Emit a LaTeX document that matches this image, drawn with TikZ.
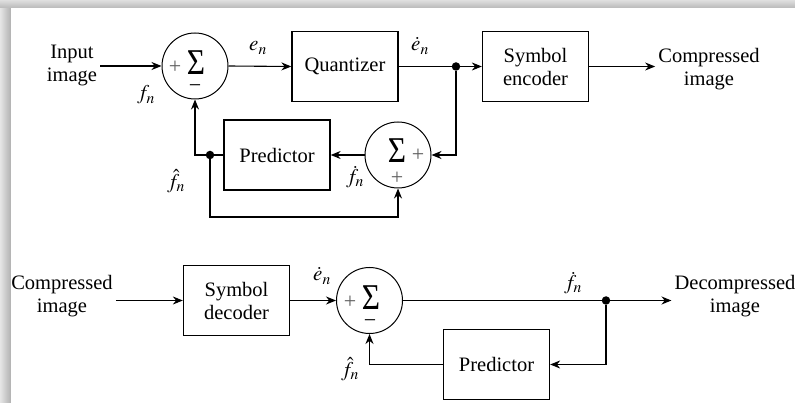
\documentclass[tikz,border=0pt]{standalone}
\usepackage{mathptmx}
\usepackage{fontspec}
\setmainfont{Liberation Serif}
\usetikzlibrary{arrows.meta}
\tikzset{
  box/.style={draw, line width=1.3pt, minimum width=106pt, minimum height=70pt, align=center, inner sep=0pt,
              font=\fontsize{20.5}{23}\selectfont},
  sumc/.style={draw, circle, line width=1pt, minimum size=66pt, inner sep=0pt},
  lbl/.style={align=center, inner sep=3pt, font=\fontsize{20.5}{23}\selectfont},
  mlbl/.style={inner sep=0pt, font=\fontsize{21}{23}\selectfont},
  sig/.style={inner sep=0pt, font=\fontsize{33}{33}\selectfont},
  pm/.style={inner sep=0pt, font=\fontsize{22}{22}\selectfont},
  ln/.style={line width=1.1pt},
  arr/.style={line width=1.1pt, -{Stealth[length=10pt,width=8pt]}},
  jdot/.style={circle, fill=black, minimum size=8.5pt, inner sep=0pt}
}
\newcommand{\bigsig}{\scalebox{0.95}[1.1]{Σ}}
\begin{document}
\begin{tikzpicture}[x=1pt,y=-1pt]
\useasboundingbox (0,0) rectangle (795,403);
% card background and shadow frame
\fill[white] (0,0) rectangle (795,403);
\shade[left color=gray!20, right color=gray!62] (0,0) rectangle (11,403);
\shade[top color=gray!25, bottom color=gray!55] (0,0) rectangle (795,8);
\fill[white] (11,8) rectangle (795,403);

% ---------- encoder ----------
\node[lbl] (in) at (72,66) {Input\\image};
\node[sumc] (s1) at (195,66) {};
\node[sig] (s1sig) at (196,63) {\bigsig};
\node[pm, gray!75!black] (s1p) at (175,67) {+};
\node[pm] (s1m) at (195,89) {−};
\node[box] (quant) at (345,66.5) {Quantizer};
\node[jdot] (d1) at (456,66.5) {};
\node[box] (enc) at (535.5,66.5) {Symbol\\encoder};
\node[lbl] (cout) at (709,69) {Compressed\\image};

\node[sumc] (s2) at (398,155) {};
\node[sig] (s2sig) at (397,151) {\bigsig};
\node[pm, gray!75!black] (s2p) at (418,155) {+};
\node[pm, gray!75!black] (s2p2) at (397,178) {+};
\node[box] (pred1) at (277,155) {Predictor};
\node[jdot] (d2) at (210,155) {};
\coordinate (lp) at (210,217);

\node[mlbl] (lfn) at (146,95) {$f_n$};
\node[mlbl] (len) at (258,48) {$e_n$};
\node[mlbl] (lden) at (420,46) {$\dot{e}_n$};
\node[mlbl] (ldfn) at (355,177) {$\dot{f}_n$};
\node[mlbl] (lhfn) at (176,181) {$\hat{f}_n$};

\draw[arr] (in.east |- s1.west) -- (s1.west);
\draw[arr] (s1.east) -- (quant.west);
\draw[ln] (quant.east) -- (d1);
\draw[arr] (d1) -- (enc.west);
\draw[arr] (enc.east) -- (cout.west |- enc.east);
\draw[arr] (d1) |- (s2.east);
\draw[arr] (s2.west) -- (pred1.east);
\draw[ln] (pred1.west) -- (d2);
\draw[arr] (d2) -| (s1.south);
\draw[arr] (d2) -- (lp) -| (s2.south);

% ---------- decoder ----------
\node[lbl] (cin) at (62,296) {Compressed\\image};
\node[box] (dec) at (236.5,300.5) {Symbol\\decoder};
\node[sumc] (s3) at (369.5,300.5) {};
\node[sig] (s3sig) at (371,298) {\bigsig};
\node[pm, gray!75!black] (s3p) at (350,302) {+};
\node[pm] (s3m) at (370,324) {−};
\node[jdot] (d3) at (606,300.5) {};
\node[lbl] (dout) at (735,296) {Decompressed\\image};
\node[box] (pred2) at (496.5,364.5) {Predictor};

\node[mlbl] (lden2) at (322,276) {$\dot{e}_n$};
\node[mlbl] (ldfn2) at (573,283) {$\dot{f}_n$};
\node[mlbl] (lhfn2) at (350,369) {$\hat{f}_n$};

\draw[arr] (cin.east |- dec.west) -- (dec.west);
\draw[arr] (dec.east) -- (s3.west);
\draw[ln] (s3.east) -- (d3);
\draw[arr] (d3) -- (dout.west |- d3);
\draw[arr] (d3) |- (pred2.east);
\draw[arr] (pred2.west) -| (s3.south);
\end{tikzpicture}
\end{document}
